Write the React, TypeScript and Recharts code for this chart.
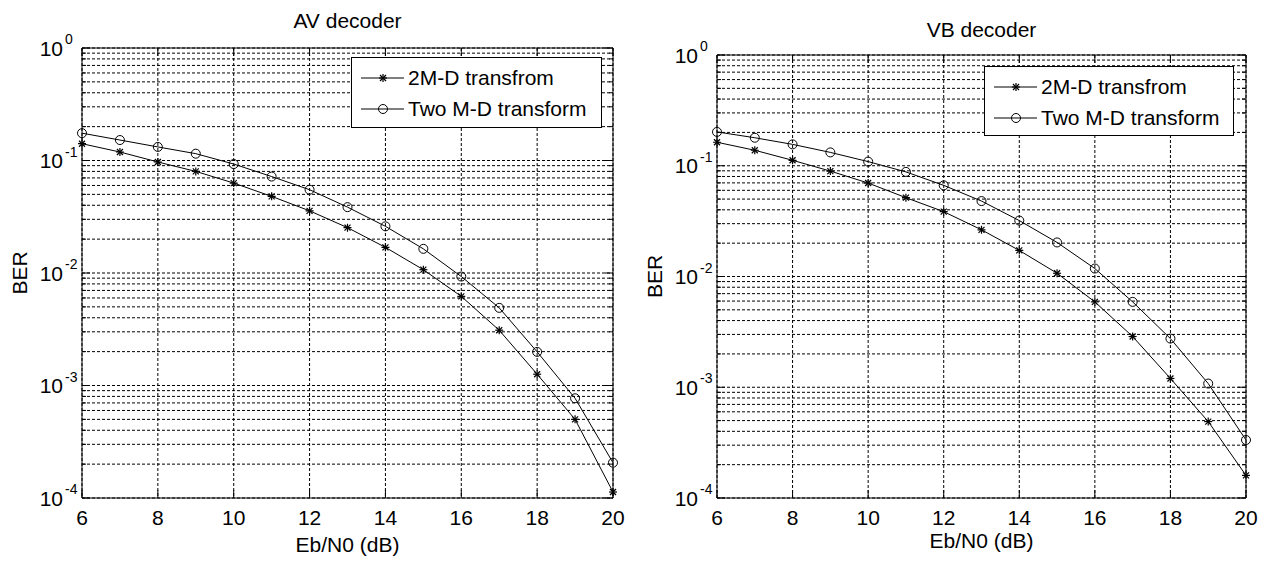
import React from 'react'
import {
  LineChart,
  Line,
  XAxis,
  YAxis,
  CartesianGrid,
  ReferenceArea,
  Legend,
  Label,
} from 'recharts'

const FONT = '"Liberation Sans", Arial, Helvetica, sans-serif'

// Eb/N0 (dB) sample points
const snr = [6, 7, 8, 9, 10, 11, 12, 13, 14, 15, 16, 17, 18, 19, 20]

// AV decoder, BER
const av2MD = [0.141, 0.119, 0.097, 0.08, 0.063, 0.048, 0.0357, 0.0253, 0.0169, 0.0107, 0.0062, 0.0031, 0.00126, 0.0005, 0.000113]
const avTwoMD = [0.175, 0.152, 0.132, 0.115, 0.093, 0.072, 0.055, 0.0385, 0.026, 0.0164, 0.0093, 0.0049, 0.00199, 0.00077, 0.000206]

// VB decoder
const vb2MD = [0.163, 0.138, 0.112, 0.0895, 0.0698, 0.0515, 0.0385, 0.0264, 0.0172, 0.0107, 0.0059, 0.00287, 0.0012, 0.00049, 0.00016]
const vbTwoMD = [0.202, 0.179, 0.156, 0.132, 0.109, 0.088, 0.0665, 0.048, 0.032, 0.0203, 0.0118, 0.0059, 0.00275, 0.00108, 0.000334]

const xTicks = [6, 8, 10, 12, 14, 16, 18, 20]
const decades = [-4, -3, -2, -1]
const mantissas = [1, 2, 3, 4, 5, 6, 7, 8, 9]
const yTicks = [...decades.flatMap((d) => mantissas.map((m) => m * Math.pow(10, d))), 1]

const seriesNames = ['2M-D transfrom', 'Two M-D transform']

const H = 563
const PLOT_BOTTOM = 498

const toRows = (star: number[], circle: number[]) =>
  snr.map((x, i) => ({ snr: x, star: star[i], circle: circle[i] }))

const StarMark = ({ cx, cy }: { cx: number; cy: number }) => (
  <g stroke="#000" strokeWidth={1.2}>
    <line x1={cx - 4} y1={cy} x2={cx + 4} y2={cy} />
    <line x1={cx} y1={cy - 4} x2={cx} y2={cy + 4} />
    <line x1={cx - 3} y1={cy - 3} x2={cx + 3} y2={cy + 3} />
    <line x1={cx - 3} y1={cy + 3} x2={cx + 3} y2={cy - 3} />
  </g>
)

const CircleMark = ({ cx, cy }: { cx: number; cy: number }) => (
  <circle cx={cx} cy={cy} r={4.5} fill="none" stroke="#000" strokeWidth={1} />
)

// y tick: 10^k label at decades, inward tick marks on both sides
function YTick(props: any) {
  const { x, y, payload, plotW } = props
  const e = Math.log10(payload.value)
  const major = Math.abs(e - Math.round(e)) < 1e-6
  const len = major ? 8 : 4
  return (
    <g>
      <line x1={x} y1={y} x2={x + len} y2={y} stroke="#000" strokeWidth={1} />
      <line x1={x + plotW - len} y1={y} x2={x + plotW} y2={y} stroke="#000" strokeWidth={1} />
      {major && (
        <g fill="#000" fontFamily={FONT}>
          <text x={x - 19} y={y} textAnchor="end" dominantBaseline="central" fontSize={21}>
            10
          </text>
          <text x={x - 17} y={y - 4} textAnchor="start" fontSize={14}>
            {Math.round(e)}
          </text>
        </g>
      )}
    </g>
  )
}

function XTick(props: any) {
  const { x, y, payload, plotTop } = props
  const axisY = y - 12
  return (
    <g>
      <line x1={x} y1={axisY} x2={x} y2={axisY - 8} stroke="#000" strokeWidth={1} />
      <line x1={x} y1={plotTop} x2={x} y2={plotTop + 8} stroke="#000" strokeWidth={1} />
      <text x={x} y={y} dy="0.71em" textAnchor="middle" fontSize={21} fontFamily={FONT} fill="#000">
        {payload.value}
      </text>
    </g>
  )
}

const BerLabel = (props: any) => {
  const vb = props.viewBox
  const cx = vb.x + vb.width - 63
  const cy = vb.y + vb.height / 2
  return (
    <text
      x={cx}
      y={cy}
      transform={`rotate(-90 ${cx} ${cy})`}
      textAnchor="middle"
      dominantBaseline="central"
      fontSize={21}
      fontFamily={FONT}
      fill="#000"
    >
      BER
    </text>
  )
}

const LegendBox = () => (
  <div
    style={{
      width: '100%',
      height: '100%',
      boxSizing: 'border-box',
      border: '1px solid #000',
      background: '#fff',
      position: 'relative',
      fontFamily: FONT,
      fontSize: 21,
      color: '#000',
    }}
  >
    {seriesNames.map((name, i) => (
      <div
        key={name}
        style={{ position: 'absolute', left: 0, top: 8 + 31 * i, height: 24, display: 'flex', alignItems: 'center', whiteSpace: 'nowrap' }}
      >
        <svg width={56} height={24}>
          <line x1={9} y1={12} x2={52} y2={12} stroke="#000" strokeWidth={1} />
          {i === 0 ? <StarMark cx={31} cy={12} /> : <CircleMark cx={31} cy={12} />}
        </svg>
        <span>{name}</span>
      </div>
    ))}
  </div>
)

type PanelProps = {
  title: string
  rows: { snr: number; star: number; circle: number }[]
  left: number
  width: number
  top: number
  yWidth: number
  titleY: number
  xLabelOffset: number
  legend: { left: number; top: number; width: number; height: number }
}

function BerPanel({ title, rows, left, width, top, yWidth, titleY, xLabelOffset, legend }: PanelProps) {
  const right = 21
  const plotW = width - yWidth - right
  return (
    <div style={{ position: 'absolute', left, top: 0 }}>
      <LineChart width={width} height={H} data={rows} margin={{ top, right, bottom: 0, left: 0 }}>
        <CartesianGrid stroke="#000" strokeDasharray="3 2" strokeWidth={1} />
        <XAxis
          dataKey="snr"
          type="number"
          domain={[6, 20]}
          ticks={xTicks}
          interval={0}
          tickLine={false}
          axisLine={false}
          tickSize={0}
          tickMargin={12}
          height={H - PLOT_BOTTOM}
          tick={<XTick plotTop={top} />}
        >
          <Label value="Eb/N0 (dB)" position="insideBottom" offset={xLabelOffset} fill="#000" fontSize={21} fontFamily={FONT} />
        </XAxis>
        <YAxis
          type="number"
          scale="log"
          domain={[1e-4, 1]}
          ticks={yTicks}
          interval={0}
          allowDataOverflow
          tickLine={false}
          axisLine={false}
          tickSize={0}
          tickMargin={0}
          width={yWidth}
          tick={<YTick plotW={plotW} />}
        >
          <Label content={BerLabel} />
        </YAxis>
        <ReferenceArea x1={6} x2={20} y1={1e-4} y2={1} fill="none" stroke="#000" strokeWidth={1} />
        <Line
          type="linear"
          dataKey="star"
          name={seriesNames[0]}
          stroke="#000"
          strokeWidth={1}
          dot={(p: any) => <StarMark key={`s${p.index}`} cx={p.cx} cy={p.cy} />}
          isAnimationActive={false}
        />
        <Line
          type="linear"
          dataKey="circle"
          name={seriesNames[1]}
          stroke="#000"
          strokeWidth={1}
          dot={(p: any) => <CircleMark key={`c${p.index}`} cx={p.cx} cy={p.cy} />}
          isAnimationActive={false}
        />
        <Legend
          layout="vertical"
          align="center"
          verticalAlign="middle"
          wrapperStyle={{ left: legend.left, top: legend.top, width: legend.width, height: legend.height }}
          content={LegendBox}
        />
        <text x={yWidth + plotW / 2} y={titleY} textAnchor="middle" fontSize={21} fontFamily={FONT} fill="#000">
          {title}
        </text>
      </LineChart>
    </div>
  )
}

export default function App() {
  return (
    <div style={{ position: 'absolute', left: 0, top: 0, width: 1267, height: H, background: '#fff' }}>
      <BerPanel
        title="AV decoder"
        rows={toRows(av2MD, avTwoMD)}
        left={0}
        width={634}
        top={48}
        yWidth={82}
        titleY={28}
        xLabelOffset={11}
        legend={{ left: 351, top: 57, width: 251, height: 71 }}
      />
      <BerPanel
        title="VB decoder"
        rows={toRows(vb2MD, vbTwoMD)}
        left={634}
        width={633}
        top={55}
        yWidth={83}
        titleY={37}
        xLabelOffset={15}
        legend={{ left: 350, top: 66, width: 250, height: 70 }}
      />
    </div>
  )
}
